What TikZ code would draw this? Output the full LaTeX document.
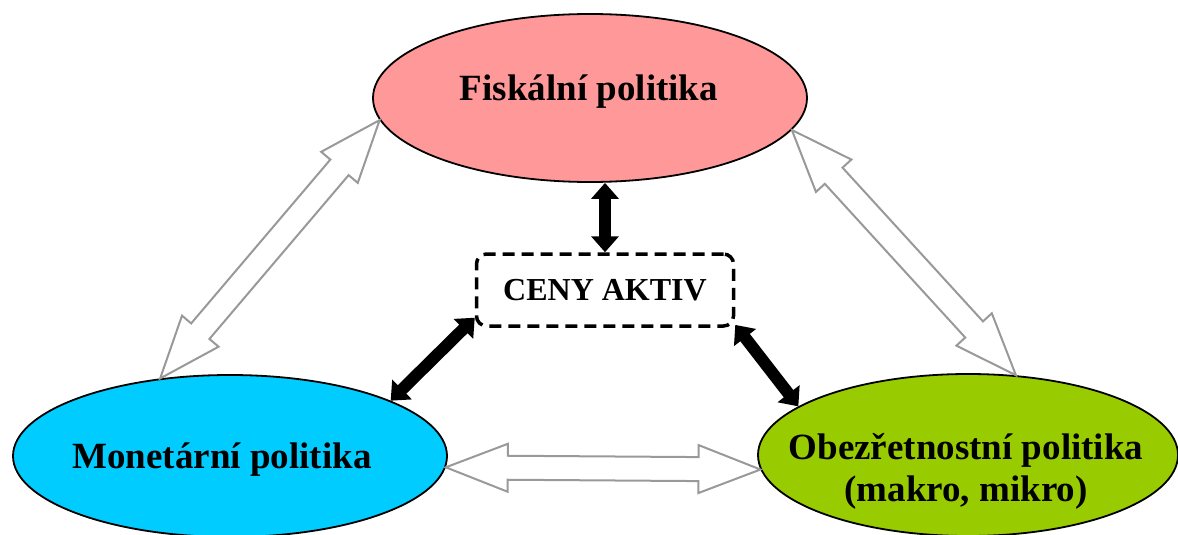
\documentclass[tikz,border=0pt]{standalone}
\usepackage{fontspec}
\setmainfont{Liberation Serif}
\usetikzlibrary{arrows.meta,shapes.geometric,calc}

\begin{document}
\begin{tikzpicture}[
    x=1pt, y=-1pt,
    ell/.style={ellipse, draw, line width=1.8pt, inner sep=0pt},
    lbl/.style={font=\fontsize{37}{42}\selectfont\bfseries, align=center},
    prices/.style={draw, dashed, dash pattern=on 12pt off 7pt, line width=3.5pt, rounded corners=10pt, minimum width=257pt, minimum height=72pt, font=\fontsize{32}{36}\selectfont\bfseries},
    dbl/.style={{Triangle[length=16pt,width=27pt]}-{Triangle[length=16pt,width=27pt]}, line width=12pt},
    hollow/.style={draw=black!40, line width=2pt, fill=white, to path={
        (\tikztostart)
        -- ($(\tikztostart)!62pt!(\tikztotarget)!24pt!90:(\tikztotarget)$)
        -- ($(\tikztostart)!62pt!(\tikztotarget)!12pt!90:(\tikztotarget)$)
        -- ($(\tikztotarget)!62pt!(\tikztostart)!12pt!-90:(\tikztostart)$)
        -- ($(\tikztotarget)!62pt!(\tikztostart)!24pt!-90:(\tikztostart)$)
        -- (\tikztotarget)
        -- ($(\tikztotarget)!62pt!(\tikztostart)!24pt!90:(\tikztostart)$)
        -- ($(\tikztotarget)!62pt!(\tikztostart)!12pt!90:(\tikztostart)$)
        -- ($(\tikztostart)!62pt!(\tikztotarget)!12pt!-90:(\tikztotarget)$)
        -- ($(\tikztostart)!62pt!(\tikztotarget)!24pt!-90:(\tikztotarget)$)
        -- cycle}}
]
\useasboundingbox (0,0) rectangle (1178,535);
\clip (0,0) rectangle (1178,535);

\node[ell, fill={rgb,255:red,255;green,153;blue,153}, minimum width=434pt, minimum height=168pt] (fisk) at (590,98) {};
\node[ell, fill={rgb,255:red,0;green,204;blue,255}, minimum width=434pt, minimum height=162pt] (mon) at (230,456) {};
\node[ell, fill={rgb,255:red,153;green,204;blue,0}, minimum width=420pt, minimum height=162pt] (obez) at (968,455) {};

\node[lbl, anchor=base] (fisk-t) at (589,100) {Fiskální politika};
\node[lbl, anchor=base] (mon-t) at (222,468) {Monetární politika};
\node[lbl] (obez-t) at (966,471) {Obezřetnostní politika\\(makro, mikro)};

\node[prices] (ceny) at (605,290) {CENY AKTIV};

\draw[hollow] (fisk.186.7) to (mon.132.3);
\draw[hollow] (fisk.-9.8) to (obez.59);
\draw[hollow] (mon.-3.7) to (obez.184.1);

\draw[dbl] (ceny.north) -- (ceny.north |- fisk.south);
\draw[dbl] (ceny.192) -- (mon.19);
\draw[dbl] (ceny.-15) -- (obez.164);
\end{tikzpicture}
\end{document}
